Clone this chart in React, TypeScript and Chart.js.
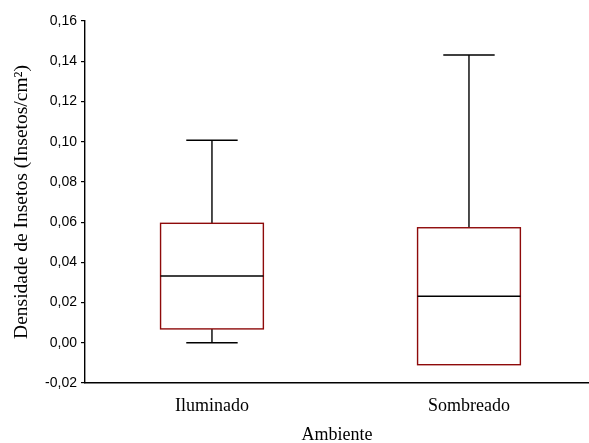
import React, { useEffect, useRef } from 'react';
import { Chart, registerables } from 'chart.js';

Chart.register(...registerables);

const categories = ['Iluminado', 'Sombreado'];
const whiskerMin = [0.0, -0.0109];
const q1 = [0.0069, -0.0109];
const median = [0.0332, 0.0231];
const q3 = [0.0594, 0.0572];
const whiskerMax = [0.1007, 0.1431];

const yMin = -0.02;
const yMax = 0.16;
const yStep = 0.02;

const xTitle = 'Ambiente';
const yTitle = 'Densidade de Insetos (Insetos/cm²)';

const BOX_HALF = 0.2;
const CAP_HALF = 0.1;
const BOX_COLOR = '#8e0a0a';
const LINE_COLOR = '#000000';
const SERIF = '"Liberation Serif", "Times New Roman", "DejaVu Serif", serif';
const SANS = '"Liberation Sans", Arial, Helvetica, sans-serif';

const boxPlugin = {
  id: 'boxplotDraw',
  afterDatasetsDraw(chart: any) {
    const { ctx } = chart;
    const x = chart.scales.x;
    const y = chart.scales.y;
    ctx.save();
    categories.forEach((_, i) => {
      const cx = x.getPixelForValue(i);
      const bl = x.getPixelForValue(i - BOX_HALF);
      const br = x.getPixelForValue(i + BOX_HALF);
      const cl = x.getPixelForValue(i - CAP_HALF);
      const cr = x.getPixelForValue(i + CAP_HALF);
      const yq1 = y.getPixelForValue(q1[i]);
      const yq3 = y.getPixelForValue(q3[i]);
      const ymed = y.getPixelForValue(median[i]);
      const yhi = y.getPixelForValue(whiskerMax[i]);
      const ylo = y.getPixelForValue(whiskerMin[i]);

      ctx.strokeStyle = LINE_COLOR;
      ctx.lineWidth = 1.4;
      if (whiskerMax[i] > q3[i]) {
        ctx.beginPath();
        ctx.moveTo(cx, yq3);
        ctx.lineTo(cx, yhi);
        ctx.moveTo(cl, yhi);
        ctx.lineTo(cr, yhi);
        ctx.stroke();
      }
      if (whiskerMin[i] < q1[i]) {
        ctx.beginPath();
        ctx.moveTo(cx, yq1);
        ctx.lineTo(cx, ylo);
        ctx.moveTo(cl, ylo);
        ctx.lineTo(cr, ylo);
        ctx.stroke();
      }
      ctx.fillStyle = '#ffffff';
      ctx.fillRect(bl, yq3, br - bl, yq1 - yq3);
      ctx.strokeStyle = BOX_COLOR;
      ctx.lineWidth = 1.4;
      ctx.strokeRect(bl, yq3, br - bl, yq1 - yq3);
      ctx.strokeStyle = LINE_COLOR;
      ctx.lineWidth = 1.4;
      ctx.beginPath();
      ctx.moveTo(bl, ymed);
      ctx.lineTo(br, ymed);
      ctx.stroke();
    });
    ctx.restore();
  },
};

export default function App() {
  const ref = useRef<HTMLCanvasElement | null>(null);

  useEffect(() => {
    if (!ref.current) return;
    const chart = new Chart(ref.current, {
      type: 'scatter',
      data: {
        datasets: [
          {
            data: categories.map((_, i) => ({ x: i, y: median[i] })),
            pointRadius: 0,
            showLine: false,
          },
        ],
      },
      options: {
        responsive: false,
        animation: false,
        devicePixelRatio: 1,
        layout: { padding: { top: 21, right: 0, left: 0, bottom: 0 } },
        plugins: {
          legend: { display: false },
          tooltip: { enabled: false },
        },
        scales: {
          x: {
            type: 'linear',
            position: 'bottom',
            min: -0.494,
            max: 1.467,
            afterBuildTicks: (scale: any) => {
              scale.ticks = categories.map((_, i) => ({ value: i }));
            },
            afterFit: (scale: any) => {
              scale.height = 60;
            },
            grid: { display: false, drawTicks: false },
            border: { display: true, color: '#000', width: 1.6 },
            ticks: {
              padding: 12,
              color: '#000',
              font: { family: SERIF, size: 18 },
              maxRotation: 0,
              autoSkip: false,
              callback: (v: any) => categories[Math.round(Number(v))] ?? '',
            },
            title: {
              display: true,
              text: xTitle,
              color: '#000',
              font: { family: SERIF, size: 18, lineHeight: 1.2 },
              padding: { top: 0, bottom: -3 },
            },
          },
          y: {
            min: yMin,
            max: yMax,
            afterFit: (scale: any) => {
              scale.width = 85;
            },
            grid: {
              display: true,
              drawOnChartArea: false,
              drawTicks: true,
              tickLength: 4,
              color: '#000',
              lineWidth: 1.2,
            },
            border: { display: true, color: '#000', width: 1.4 },
            ticks: {
              stepSize: yStep,
              padding: 4,
              color: '#000',
              font: { family: SANS, size: 14 },
              callback: (v: any) => Number(v).toFixed(2).replace('.', ','),
            },
            title: {
              display: true,
              text: yTitle,
              color: '#000',
              font: { family: SERIF, size: 19.5, lineHeight: 1.2 },
              padding: { top: 10, bottom: 0 },
            },
          },
        },
      },
      plugins: [boxPlugin],
    } as any);
    return () => chart.destroy();
  }, []);

  return (
    <div style={{ position: 'absolute', left: 0, top: 0, width: 589, height: 443, background: '#fff' }}>
      <canvas ref={ref} width={589} height={443} style={{ display: 'block' }} />
    </div>
  );
}
